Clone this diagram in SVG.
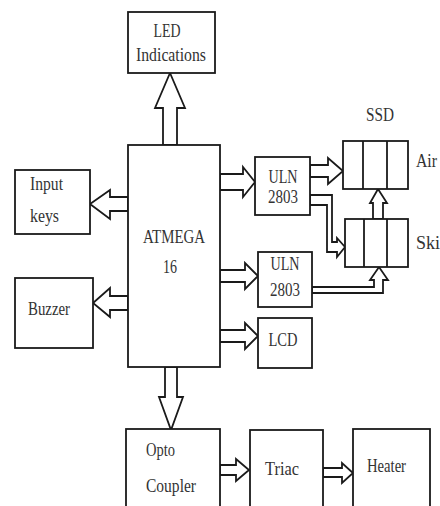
<svg xmlns="http://www.w3.org/2000/svg" width="440" height="506" viewBox="0 0 440 506">
<style>
.box{fill:#fff;stroke:#1a1a1a;stroke-width:1.8}
.arr{fill:#fff;stroke:#1a1a1a;stroke-width:1.8;stroke-linejoin:miter}
.div{stroke:#1a1a1a;stroke-width:1.8}
.c{text-anchor:middle}
</style>
<rect width="440" height="506" fill="#fff"/>
<g id="connectors">
<polygon class="arr" points="163,145 163,108 155,108 170,73 185,108 177,108 177,145"/>
<polygon class="arr" points="128,197 110,197 110,190 90,204 110,219 110,211 128,211"/>
<polygon class="arr" points="128,296 110,296 110,288 93,303 110,317 110,310 128,310"/>
<polygon class="arr" points="220,174 243,174 243,167 255,182 243,197 243,190 220,190"/>
<polygon class="arr" points="220,270 245,270 245,263 258,276 245,289 245,282 220,282"/>
<polygon class="arr" points="220,330 245,330 245,323 258,336 245,349 245,342 220,342"/>
<polygon class="arr" points="310,165 328,165 328,158 343,171 328,184 328,177 310,177"/>
<polygon class="arr" points="373,219 373,203 370,203 378,189 387,203 383,203 383,219"/>
<polygon class="arr" points="310,195 332,195 332,242 337,242 337,238 345,247 337,257 337,252 327,252 327,205 310,205"/>
<polygon class="arr" points="312,287 374,287 374,280 370,280 379,267 388,280 383,280 383,293 312,293"/>
<polygon class="arr" points="165,367 165,397 159,397 171,430 183,397 177,397 177,367"/>
<polygon class="arr" points="220,465 236,465 236,459 249,470 236,481 236,475 220,475"/>
<polygon class="arr" points="323,468 342,468 342,463 353,473 342,483 342,477 323,477"/>
</g>
<g font-family="Liberation Serif, Times New Roman, serif" font-size="18" fill="#333">
<g id="led"><rect class="box" x="128" y="12" width="87" height="61"/>
<text class="c" x="167" y="37" textLength="27" lengthAdjust="spacingAndGlyphs">LED</text><text class="c" x="171" y="61" textLength="70" lengthAdjust="spacingAndGlyphs">Indications</text></g>
<g id="atmega"><rect class="box" x="128" y="145" width="92" height="222"/>
<text class="c" x="174" y="243" textLength="62" lengthAdjust="spacingAndGlyphs">ATMEGA</text><text class="c" x="170" y="273" textLength="14" lengthAdjust="spacingAndGlyphs">16</text></g>
<g id="input"><rect class="box" x="15" y="170" width="75" height="64"/>
<text x="30" y="190" textLength="33" lengthAdjust="spacingAndGlyphs">Input</text><text x="30" y="222" textLength="29" lengthAdjust="spacingAndGlyphs">keys</text></g>
<g id="buzzer"><rect class="box" x="15" y="278" width="78" height="70"/>
<text x="28" y="315" textLength="42" lengthAdjust="spacingAndGlyphs">Buzzer</text></g>
<g id="uln1"><rect class="box" x="255" y="157" width="55" height="58"/>
<text class="c" x="283" y="183" textLength="29" lengthAdjust="spacingAndGlyphs">ULN</text><text class="c" x="283" y="203" textLength="30" lengthAdjust="spacingAndGlyphs">2803</text></g>
<g id="uln2"><rect class="box" x="258" y="252" width="54" height="55"/>
<text class="c" x="285" y="270" textLength="29" lengthAdjust="spacingAndGlyphs">ULN</text><text class="c" x="285" y="296" textLength="30" lengthAdjust="spacingAndGlyphs">2803</text></g>
<g id="lcd"><rect class="box" x="258" y="318" width="54" height="50"/>
<text class="c" x="283" y="346" textLength="29" lengthAdjust="spacingAndGlyphs">LCD</text></g>
<g id="ssd-air"><rect class="box" x="343" y="141" width="65" height="48"/>
<line class="div" x1="363" y1="141" x2="363" y2="189"/><line class="div" x1="387" y1="141" x2="387" y2="189"/></g>
<g id="ssd-skin"><rect class="box" x="345" y="219" width="63" height="48"/>
<line class="div" x1="364" y1="219" x2="364" y2="267"/><line class="div" x1="387" y1="219" x2="387" y2="267"/></g>
<g id="labels"><text class="c" x="380" y="121" textLength="28" lengthAdjust="spacingAndGlyphs">SSD</text>
<text x="416" y="167" textLength="21" lengthAdjust="spacingAndGlyphs">Air</text><text x="416" y="249" textLength="24" lengthAdjust="spacingAndGlyphs">Ski</text></g>
<g id="opto"><rect class="box" x="126" y="429" width="94" height="90"/>
<text x="146" y="456" textLength="29" lengthAdjust="spacingAndGlyphs">Opto</text><text x="146" y="492" textLength="50" lengthAdjust="spacingAndGlyphs">Coupler</text></g>
<g id="triac"><rect class="box" x="250" y="430" width="73" height="90"/>
<text x="265" y="475" textLength="34" lengthAdjust="spacingAndGlyphs">Triac</text></g>
<g id="heater"><rect class="box" x="353" y="429" width="77" height="90"/>
<text x="367" y="472" textLength="39" lengthAdjust="spacingAndGlyphs">Heater</text></g>
</g>
</svg>
